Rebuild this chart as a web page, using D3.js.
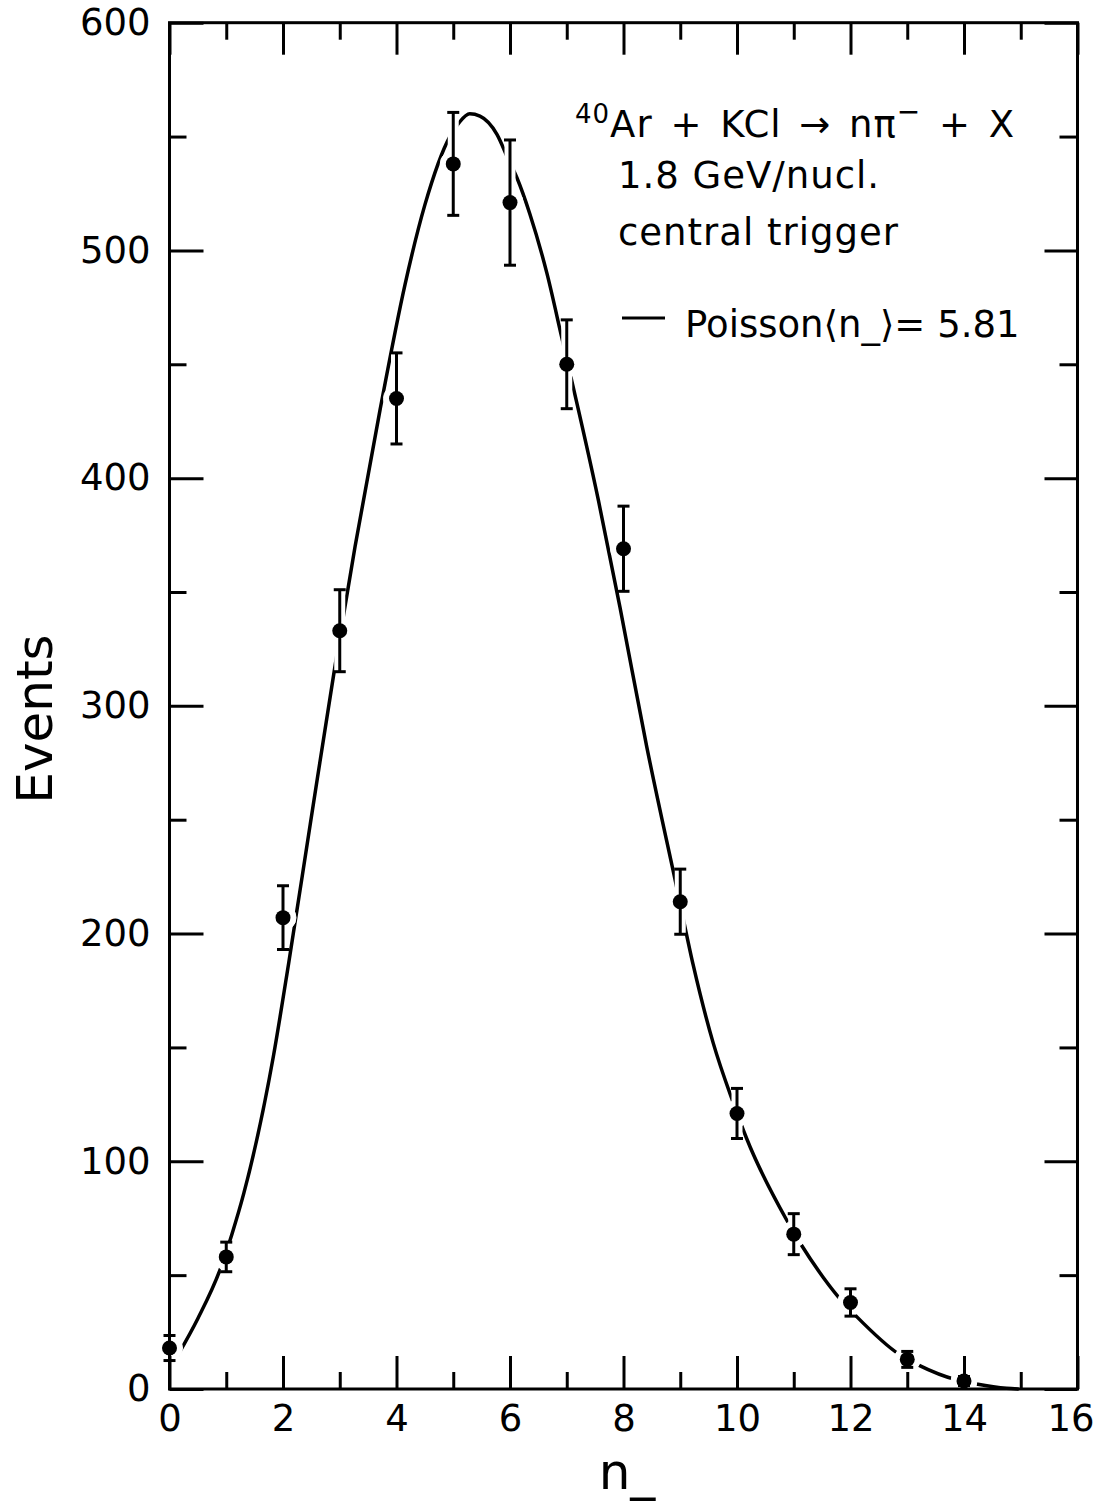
<!DOCTYPE html>
<html>
  <head>
    <meta charset="utf-8" />
    <title>n- multiplicity</title>
    <script src="https://cdn.jsdelivr.net/npm/d3@7"></script>
    <style type="text/css">
      body { margin: 0; background: #fff; }
      svg { display: block; }
      text { font-family: "DejaVu Sans", sans-serif; fill: #000; }
    </style>
  </head>

  <body>
    <svg id="chart" width="1096" height="1501"></svg>
    <script type="text/javascript">
      // measured points, n_ = 0..14
      var nVals = [0, 1, 2, 3, 4, 5, 6, 7, 8, 9, 10, 11, 12, 13, 14];
      var events = [18, 58, 207, 333, 435, 538, 521, 450, 369, 214, 121, 68, 38, 13, 3.5];
      var errors = [5.5, 6.5, 14, 18, 20, 22.6, 27.5, 19.5, 18.7, 14.3, 11, 9, 6, 3.5, 2];

      // Poisson curve
      var curveX = [0.15, 0.5, 0.9, 1.1, 1.31, 1.83, 2.1, 2.48, 2.92, 3.27, 3.71, 4.15, 4.5, 4.94, 5.1, 5.29,
        5.47, 5.77, 5.97, 6.12, 6.35, 6.65, 6.91, 7.56, 7.94, 8.41, 8.94, 9.23, 9.58, 9.93,
        10.17, 10.88, 11.14, 11.52, 11.87, 12.1, 12.87, 13.2, 13.87, 14.22, 14.75, 14.95];
      var curveY = [15, 31, 53, 68, 86, 146, 187, 248, 318, 370, 430, 485, 520, 550, 556, 560,
        559, 551, 540, 532, 516, 490, 462, 390, 343, 282, 220, 186, 152, 126,
        110, 74, 63, 49, 38, 32, 15, 10.5, 4, 2.2, 0.3, 0];

      var xMajor = [0, 2, 4, 6, 8, 10, 12, 14, 16];
      var xMinor = [1, 3, 5, 7, 9, 11, 13, 15];
      var yMajor = [0, 100, 200, 300, 400, 500, 600];
      var yMinor = [50, 150, 250, 350, 450, 550];

      var L = 169.5, R = 1077.5, T = 22.7, B = 1389;
      var x = d3.scaleLinear().domain([0, 16]).range([L, R]);
      var y = d3.scaleLinear().domain([0, 600]).range([B, T]);

      var svg = d3.select('#chart');
      svg.append('rect').attr('width', 1096).attr('height', 1501).attr('fill', '#fff');

      var pts = nVals.map((n, i) => ({ n: n, v: events[i], e: errors[i] }));

      // fit curve
      var line = d3.line()
        .x((d) => x(d[0]))
        .y((d) => y(d[1]))
        .curve(d3.curveMonotoneX);
      svg.append('path')
        .datum(d3.zip(curveX, curveY))
        .attr('d', line)
        .attr('fill', 'none')
        .attr('stroke', '#000')
        .attr('stroke-width', 3.5)
        .attr('stroke-linecap', 'round');

      // white halo so the curve breaks around the points like on the drawing
      var halo = svg.append('g').attr('stroke', '#fff').attr('fill', '#fff');
      halo.selectAll('line.bar').data(pts).enter().append('line')
        .attr('x1', (d) => x(d.n)).attr('x2', (d) => x(d.n))
        .attr('y1', (d) => y(d.v + d.e)).attr('y2', (d) => y(Math.max(d.v - d.e, 0)))
        .attr('stroke-width', 11);
      halo.selectAll('circle').data(pts).enter().append('circle')
        .attr('cx', (d) => x(d.n)).attr('cy', (d) => y(d.v)).attr('r', 13);

      function styleAxis(g) {
        g.select('.domain').remove();
        g.selectAll('line').attr('stroke', '#000').attr('stroke-width', 3);
        g.selectAll('text').style('font-size', '37px').style('font-family', '"DejaVu Sans", sans-serif');
      }

      // bottom
      var xb = svg.append('g').attr('transform', 'translate(0,' + B + ')')
        .call(d3.axisBottom(x).tickValues(xMajor).tickSize(-33).tickPadding(16).tickFormat(d3.format('d')))
        .call(styleAxis);
      xb.selectAll('text').filter((d) => d === 16).attr('dx', -7);
      svg.append('g').attr('transform', 'translate(0,' + B + ')')
        .call(d3.axisBottom(x).tickValues(xMinor).tickSize(-17).tickFormat(''))
        .call(styleAxis);
      // top
      svg.append('g').attr('transform', 'translate(0,' + T + ')')
        .call(d3.axisTop(x).tickValues(xMajor).tickSize(-32).tickFormat(''))
        .call(styleAxis);
      svg.append('g').attr('transform', 'translate(0,' + T + ')')
        .call(d3.axisTop(x).tickValues(xMinor).tickSize(-17).tickFormat(''))
        .call(styleAxis);
      // left
      svg.append('g').attr('transform', 'translate(' + L + ',0)')
        .call(d3.axisLeft(y).tickValues(yMajor).tickSize(-34).tickPadding(19).tickFormat(d3.format('d')))
        .call(styleAxis);
      svg.append('g').attr('transform', 'translate(' + L + ',0)')
        .call(d3.axisLeft(y).tickValues(yMinor).tickSize(-17).tickFormat(''))
        .call(styleAxis);
      // right
      svg.append('g').attr('transform', 'translate(' + R + ',0)')
        .call(d3.axisRight(y).tickValues(yMajor).tickSize(-33).tickFormat(''))
        .call(styleAxis);
      svg.append('g').attr('transform', 'translate(' + R + ',0)')
        .call(d3.axisRight(y).tickValues(yMinor).tickSize(-18).tickFormat(''))
        .call(styleAxis);

      svg.append('rect')
        .attr('x', L).attr('y', T).attr('width', R - L).attr('height', B - T)
        .attr('fill', 'none').attr('stroke', '#000').attr('stroke-width', 3);

      // error bars
      var bars = svg.append('g').attr('stroke', '#000').attr('stroke-width', 3);
      bars.selectAll('line.v').data(pts).enter().append('line')
        .attr('x1', (d) => x(d.n)).attr('x2', (d) => x(d.n))
        .attr('y1', (d) => y(d.v + d.e)).attr('y2', (d) => y(Math.max(d.v - d.e, 0)));
      bars.selectAll('line.t').data(pts).enter().append('line')
        .attr('x1', (d) => x(d.n) - 6).attr('x2', (d) => x(d.n) + 6)
        .attr('y1', (d) => y(d.v + d.e)).attr('y2', (d) => y(d.v + d.e));
      bars.selectAll('line.b').data(pts).enter().append('line')
        .attr('x1', (d) => x(d.n) - 6).attr('x2', (d) => x(d.n) + 6)
        .attr('y1', (d) => y(Math.max(d.v - d.e, 0))).attr('y2', (d) => y(Math.max(d.v - d.e, 0)));

      svg.append('g').selectAll('circle').data(pts).enter().append('circle')
        .attr('cx', (d) => x(d.n)).attr('cy', (d) => y(d.v)).attr('r', 7.5)
        .attr('fill', '#000');

      // axis titles
      svg.append('text')
        .attr('transform', 'translate(52,719) rotate(-90)')
        .attr('text-anchor', 'middle')
        .style('font-size', '50px')
        .text('Events');
      svg.append('text')
        .attr('x', 627).attr('y', 1489)
        .attr('text-anchor', 'middle')
        .style('font-size', '50px')
        .text('n_');

      // annotation
      var ann = svg.append('g').style('font-size', '37px').style('letter-spacing', '1px');
      var t1 = ann.append('text').attr('x', 575).attr('y', 137).style('word-spacing', '5px');
      t1.append('tspan').attr('dy', -14).style('font-size', '26px').text('40');
      t1.append('tspan').attr('dy', 14).text('Ar + KCl \u2192 n\u03c0');
      t1.append('tspan').attr('dy', -16).style('font-size', '28px').text('\u2212');
      t1.append('tspan').attr('dy', 16).text(' + X');
      ann.append('text').attr('x', 618).attr('y', 188).text('1.8 GeV/nucl.');
      ann.append('text').attr('x', 618).attr('y', 245).text('central trigger');
      svg.append('line')
        .attr('x1', 622).attr('x2', 665).attr('y1', 318).attr('y2', 318)
        .attr('stroke', '#000').attr('stroke-width', 3);
      ann.append('text').attr('x', 685).attr('y', 337).style('letter-spacing', '0px')
        .text('Poisson\u27e8n_\u27e9= 5.81');
    </script>
  </body>
</html>
